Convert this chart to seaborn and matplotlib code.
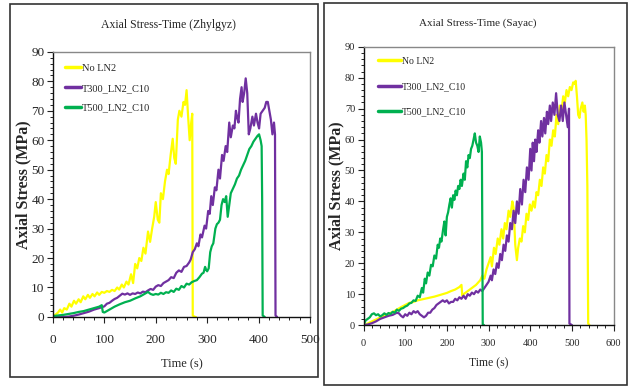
import matplotlib
matplotlib.use("Agg")
import matplotlib.pyplot as plt
from matplotlib.ticker import MultipleLocator
import seaborn as sns
import pandas as pd

# ---- data ----
series_names = ["No LN2", "T300_LN2_C10", "T500_LN2_C10"]
colors = ["#FFFF00", "#7030A0", "#00B050"]

# Zhylgyz
zh_noln2_t = [0, 5, 10, 14, 18, 22, 27, 32, 36, 41, 45, 50, 54, 59, 63, 68, 72, 77, 81, 86, 90, 95, 100,
              105, 110, 115, 120, 125, 129, 134, 138, 143, 147, 152, 156, 160, 164, 168, 172, 176, 180,
              185, 189, 193, 197, 200, 204, 207, 210, 214, 218, 222, 225, 229, 233, 236, 239, 243, 246,
              250, 254, 257, 260, 263, 266, 269, 271, 272, 276, 278]
zh_noln2_s = [0.3, 0.8, 1.5, 2.5, 1.5, 3, 2.5, 4.5, 3.5, 5.5, 4.5, 6, 5, 7, 6, 7.5, 6.5, 7.8, 7, 8.3, 7.5,
              8.5, 8.2, 8.8, 8.5, 9.2, 8.8, 10, 9.3, 11, 10, 12, 11, 14.5, 11.5, 18, 16.5, 20, 19, 23.5,
              21.5, 29, 25.5, 30, 34, 39, 33, 32, 42, 40, 46, 50, 48.5, 55, 60.5, 54, 52, 67, 70, 68, 73,
              72, 77, 68, 60, 66, 69, 0.5, 0, 0]

zh_t300_t = [0, 10, 20, 30, 40, 50, 60, 70, 80, 90, 100, 105, 110, 115, 120, 125, 130, 135, 140, 145, 150,
             155, 160, 165, 170, 175, 180, 185, 190, 195, 200, 205, 210, 215, 220, 225, 230, 235, 240, 245,
             250, 255, 260, 265, 268, 272, 276, 280, 283, 287, 290, 295, 298, 302, 305, 308, 311, 315, 318,
             322, 325, 329, 332, 336, 339, 343, 346, 350, 353, 356, 358, 361, 364, 367, 369, 372, 375, 378,
             381, 384, 388, 391, 395, 398, 401, 404, 408, 412, 415, 418, 421, 424, 427, 430, 432, 433, 436]
zh_t300_s = [0, 0, 0, 0.1, 0.4, 0.8, 1.3, 1.8, 2.5, 3, 3.6, 4.5, 4.8, 5.5, 6.1, 6.5, 7.2, 7.9, 7.6, 8, 7.5,
             8, 7.8, 8.3, 8, 8.6, 8.4, 9, 9.5, 9.2, 10.3, 10.8, 10.5, 11.5, 12, 12.5, 13.5, 13.2, 15, 15.8,
             15.3, 17, 17.3, 18.5, 19.5, 22, 23, 25, 24, 28, 27, 31, 30, 36, 35, 41, 38, 44, 43, 50, 47, 55,
             53, 58, 56, 66, 61, 65, 64, 70, 68, 66, 74, 78, 73, 76, 81, 76, 62, 64, 68, 65, 69, 66, 64, 69,
             70, 71, 73, 73, 70, 67, 62, 66, 62, 0.5, 0]

zh_t500_t = [0, 10, 20, 30, 40, 50, 60, 70, 80, 90, 95, 97, 100, 110, 120, 130, 140, 150, 160, 170, 180,
             185, 190, 195, 200, 205, 210, 215, 220, 225, 230, 235, 240, 245, 250, 255, 260, 265, 270, 275,
             280, 285, 290, 293, 296, 298, 300, 303, 306, 309, 312, 316, 319, 322, 325, 328, 331, 334, 337,
             340, 343, 346, 350, 354, 358, 362, 366, 370, 374, 378, 382, 386, 390, 394, 398, 401, 404, 406,
             407, 408, 412]
zh_t500_s = [0.3, 0.5, 0.7, 1, 1.3, 1.7, 2, 2.5, 3, 3.5, 4, 1.7, 1.5, 2.5, 3.5, 4.3, 5, 5.5, 6.3, 7, 8,
             8.5, 7.8, 7.5, 7.8, 7.6, 8.2, 7.8, 8.4, 8.2, 9, 8.5, 9.6, 9.2, 10.5, 10, 11.3, 11, 11.8, 12.2,
             12.5, 13.5, 14.7, 15, 17, 16, 15.5, 16.5, 22, 24, 25, 30, 31.5, 32, 33, 38, 40, 39, 41, 34,
             38, 42, 43.5, 45, 47, 48, 50, 51.5, 53, 55, 57, 58, 59.5, 60.5, 61.5, 62, 60, 58, 40, 0.5, 0]

# Sayac
sa_noln2_t = [0, 10, 20, 30, 40, 50, 60, 70, 80, 90, 100, 110, 120, 130, 140, 150, 160, 170, 180, 190,
              200, 210, 220, 230, 235, 237, 240, 250, 260, 270, 280, 285, 290, 295, 300, 305, 308, 313,
              317, 322, 326, 331, 335, 339, 343, 348, 352, 357, 360, 364, 368, 371, 375, 379, 383, 387,
              391, 395, 399, 403, 407, 411, 415, 419, 423, 427, 431, 435, 439, 443, 447, 451, 455, 459,
              463, 467, 471, 475, 479, 483, 487, 491, 495, 499, 503, 507, 509, 512, 515, 518, 521, 525,
              528, 531, 533, 535, 537, 539, 542]
sa_noln2_s = [0, 0.5, 1.2, 1.8, 2.5, 3, 3.7, 4.2, 5, 5.8, 6.5, 7.2, 7.5, 8, 8.3, 8.6, 8.9, 9.2, 9.6, 10,
              10.4, 11, 11.5, 12.3, 13, 9.5, 10, 11, 12, 13, 14.5, 16, 15, 18, 20, 22, 19, 25, 23, 28, 26,
              31, 28, 33, 31, 37, 35, 40, 38, 26, 21, 25, 28, 27, 32, 30, 36, 34, 39, 37, 40, 38, 43, 42,
              47, 45, 51, 49, 55, 53, 60, 58, 63, 61, 68, 65, 71, 69, 74, 72, 76, 74, 77, 76, 78.5, 78, 79,
              74, 68, 67, 70, 72, 69, 71, 68, 60, 45, 0.5, 0]

sa_t300_t = [0, 10, 20, 30, 40, 50, 60, 70, 80, 85, 90, 95, 100, 105, 110, 115, 120, 125, 130, 135, 140,
             145, 150, 155, 160, 165, 170, 175, 180, 185, 190, 195, 200, 205, 210, 215, 220, 225, 230, 235,
             240, 245, 250, 255, 260, 265, 270, 275, 280, 285, 290, 295, 300, 305, 308, 312, 316, 320, 324,
             328, 332, 336, 340, 344, 348, 352, 356, 360, 364, 368, 372, 376, 380, 384, 388, 392, 396, 400,
             403, 406, 409, 412, 415, 419, 422, 426, 429, 433, 436, 440, 443, 447, 450, 454, 458, 462, 466,
             470, 474, 478, 482, 486, 490, 493, 494, 500]
sa_t300_s = [0, 0.2, 0.6, 1.2, 2, 2.5, 3, 3.3, 4, 3.8, 3, 2.5, 3.5, 3, 4, 3.5, 4.5, 4, 4.5, 3.5, 3, 2.5,
             3, 4, 4, 5, 5.5, 6.5, 7, 7.5, 8, 7.5, 8, 7, 7.5, 7.5, 8.5, 8, 9, 8.5, 9.5, 8.5, 10, 9.5, 10.5,
             10, 11, 10.5, 11.5, 11, 12, 13, 14, 16, 14.5, 18, 16.5, 20, 18.5, 23, 21, 26, 24, 29, 27, 33,
             31, 37, 33, 40, 36, 44, 39, 47, 43, 51, 47, 57, 50, 59, 53, 60, 56, 63, 59, 66, 61, 67, 62, 69,
             65, 71, 66, 72, 68, 75, 68, 66, 71, 66, 72, 68, 64, 70, 0.5, 0]

sa_t500_t = [0, 5, 10, 15, 20, 25, 30, 35, 40, 45, 50, 55, 60, 65, 70, 75, 80, 85, 90, 95, 100, 105, 110,
             115, 120, 125, 130, 135, 140, 143, 147, 150, 154, 158, 162, 166, 170, 174, 178, 181, 184, 187,
             191, 194, 197, 200, 203, 206, 209, 212, 215, 218, 221, 224, 227, 230, 233, 236, 240, 243, 246,
             249, 252, 255, 258, 261, 264, 267, 270, 273, 276, 279, 282, 284, 285, 286, 289]
sa_t500_s = [0, 1.5, 2, 2.5, 3.5, 3.8, 3.2, 3.5, 2.8, 3.2, 3.8, 3.3, 3.9, 3.6, 4.3, 4, 5, 4.6, 5.3, 5.5,
             6, 6.3, 7, 7.2, 8, 7.8, 9.5, 9, 12, 10.5, 15, 13.5, 17, 16, 19.5, 19, 22.5, 21.5, 26, 25, 28,
             27, 31, 33.5, 29, 35, 36.5, 39, 41, 38, 42, 40.5, 43.5, 42, 45, 44, 47, 45, 49, 47, 53, 51, 55,
             54, 57, 58, 60, 62, 59, 58, 56, 61, 59, 56, 30, 0.2, 0]

panels = [
    {"title": "Axial Stress-Time (Zhylgyz)", "xmax": 500,
     "data": [(zh_noln2_t, zh_noln2_s), (zh_t300_t, zh_t300_s), (zh_t500_t, zh_t500_s)]},
    {"title": "Axial Stress-Time (Sayac)", "xmax": 600,
     "data": [(sa_noln2_t, sa_noln2_s), (sa_t300_t, sa_t300_s), (sa_t500_t, sa_t500_s)]},
]

sns.set_theme(style="ticks")
plt.rcParams["font.family"] = ["Liberation Serif", "DejaVu Serif"]

fig = plt.figure(figsize=(6.3, 3.87), dpi=100)

# panel frames
for (x0, y0, w, h) in [(0.016, 0.026, 0.489, 0.964), (0.514, 0.006, 0.481, 0.986)]:
    fig.add_artist(plt.Rectangle((x0, y0), w, h, transform=fig.transFigure, fill=False,
                                 lw=1.2, ec="#333333"))

ax_pos = [[0.084, 0.181, 0.408, 0.685], [0.577, 0.160, 0.397, 0.719]]
tick_fs = [9.5, 7.5]
leg_fs = [7.5, 7]
leg_anchor = [(0.047, 0.955), (0.059, 0.965)]
leg_spacing = [1.0, 1.7]
leg_hlen = [1.5, 2.3]
title_xy = [(0.268, 0.935), (0.759, 0.940)]
title_fs = [8.5, 8]
xlab_fs = [9, 8.5]
xlab_pad = [9, 7]
xtick_pad = [8, 6]

for i, p in enumerate(panels):
    ax = fig.add_axes(ax_pos[i])
    rows = []
    for name, (t, s) in zip(series_names, p["data"]):
        rows.append(pd.DataFrame({"Time": t, "Stress": s, "Series": name}))
    df = pd.concat(rows, ignore_index=True)
    sns.lineplot(data=df, x="Time", y="Stress", hue="Series", palette=colors,
                 hue_order=series_names, estimator=None, sort=False, lw=1.6, ax=ax)

    ax.set_xlim(0, p["xmax"])
    ax.set_ylim(0, 90)
    ax.xaxis.set_major_locator(MultipleLocator(100))
    ax.xaxis.set_minor_locator(MultipleLocator(20))
    ax.yaxis.set_major_locator(MultipleLocator(10))
    ax.yaxis.set_minor_locator(MultipleLocator(2))
    ax.tick_params(which="major", direction="out", length=4, width=0.8, labelsize=tick_fs[i], color="#222222")
    ax.tick_params(which="minor", direction="out", length=2.2, width=0.7, color="#222222")
    ax.tick_params(axis="x", pad=xtick_pad[i])
    ax.tick_params(axis="y", pad=2)
    for side in ["left", "bottom"]:
        ax.spines[side].set_color("#111111")
        ax.spines[side].set_linewidth(1.0)
    for side in ["top", "right"]:
        ax.spines[side].set_color("#888888")
        ax.spines[side].set_linewidth(1.0)

    ax.set_xlabel("Time (s)", fontsize=xlab_fs[i], labelpad=xlab_pad[i])
    ax.set_ylabel("Axial Stress (MPa)", fontsize=11.5, fontweight="bold", labelpad=0)
    fig.text(title_xy[i][0], title_xy[i][1], p["title"], ha="center", va="center",
             fontsize=title_fs[i])

    ax.legend(loc="upper left", bbox_to_anchor=leg_anchor[i], borderaxespad=0, borderpad=0,
              frameon=False, fontsize=leg_fs[i], labelspacing=leg_spacing[i],
              handlelength=leg_hlen[i], handletextpad=0.1)
    for ln in ax.get_legend().get_lines():
        ln.set_linewidth(2.5)

fig.savefig("out.png", dpi=100)
